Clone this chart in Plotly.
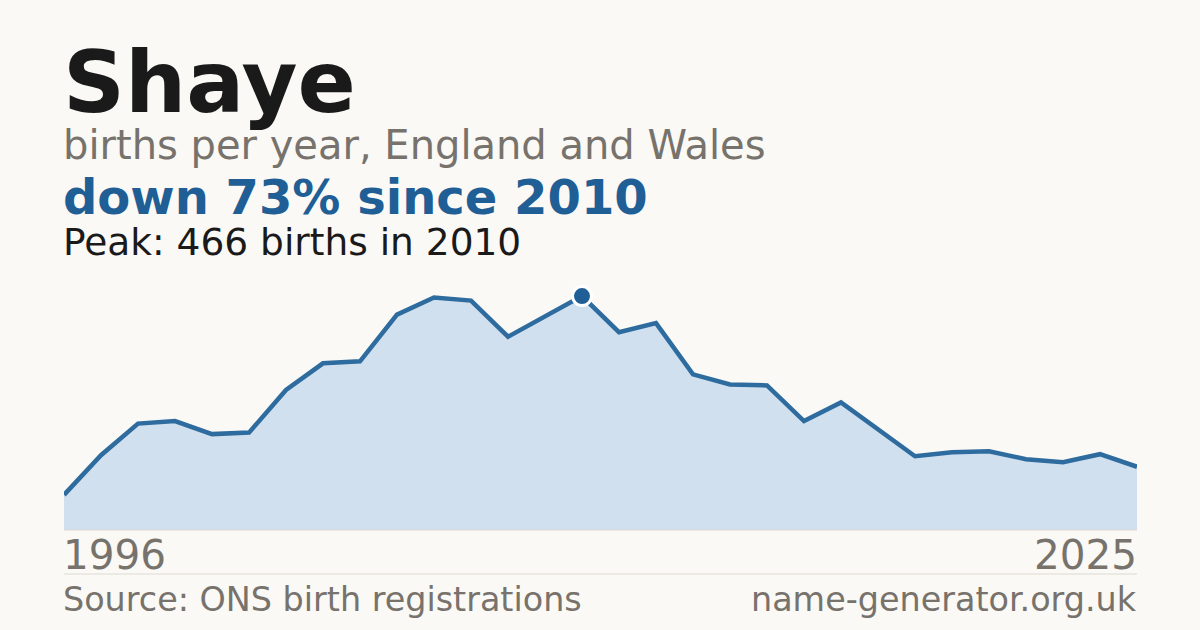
import plotly.graph_objects as go

bakgrunn = '#faf9f5'
blå = '#1f5f95'
linjeblå = '#2e6b9e'
lys_blå = '#d0e0ef'
grå = '#77726c'
svart = '#1a1a1a'

# births per year
years = list(range(1996, 2026))
births = [70, 149, 212, 217, 191, 194, 279, 332, 336, 429,
          463, 457, 385, 425, 466, 394, 412, 310, 290, 288,
          217, 254, 201, 147, 155, 157, 141, 135, 151, 126]

name = 'Shaye'
peak_year = 2010
peak_value = 466
first_label = '1996'
last_label = '2025'

W, H = 1200, 630


def py(px):
    # pixel row from top -> paper y
    return 1 - px / H


def px_x(px):
    return px / W


fig = go.Figure()

fig.add_trace(go.Scatter(
    x=years, y=births,
    mode='lines',
    fill='tozeroy',
    fillcolor=lys_blå,
    line=dict(color=linjeblå, width=4.5),
    hoverinfo='skip'
))

# peak marker
fig.add_trace(go.Scatter(
    x=[peak_year], y=[peak_value],
    mode='markers',
    marker=dict(size=19, color=blå, line=dict(color='white', width=3)),
    cliponaxis=False,
    hoverinfo='skip'
))

fig.update_layout(
    width=W, height=H,
    margin=dict(l=0, r=0, t=0, b=0),
    paper_bgcolor=bakgrunn,
    plot_bgcolor='rgba(0,0,0,0)',
    showlegend=False,
    font=dict(family='DejaVu Sans', color=svart),
    xaxis=dict(domain=[px_x(64), px_x(1137)], range=[1996, 2025],
               visible=False, fixedrange=True),
    yaxis=dict(domain=[py(530), py(280)], range=[0, 498],
               visible=False, fixedrange=True),
)

# tekst (venstre)
tekster = [
    (name, 82, 86, svart, True),
    ('births per year, England and Wales', 145, 40, grå, False),
    ('down 73% since 2010', 197, 48, blå, True),
    ('Peak: %d births in %d' % (peak_value, peak_year), 242, 37.5, svart, False),
    (first_label, 555, 40.5, grå, False),
    ('Source: ONS birth registrations', 599, 33.4, grå, False),
]
for txt, y, size, farge, fet in tekster:
    fig.add_annotation(
        text='<b>%s</b>' % txt if fet else txt,
        x=px_x(61), y=py(y), xref='paper', yref='paper',
        xanchor='left', yanchor='middle', showarrow=False,
        font=dict(size=size, color=farge)
    )

# tekst (høyre)
for txt, y, size in [(last_label, 555, 40.5), ('name-generator.org.uk', 599, 33.4)]:
    fig.add_annotation(
        text=txt, x=px_x(1139), y=py(y), xref='paper', yref='paper',
        xanchor='right', yanchor='middle', showarrow=False,
        font=dict(size=size, color=grå)
    )

# grunnlinje og skillelinje
fig.add_shape(type='line', xref='paper', yref='paper',
              x0=px_x(64), x1=px_x(1137), y0=py(530), y1=py(530),
              line=dict(color='#dcdad4', width=1))
fig.add_shape(type='line', xref='paper', yref='paper',
              x0=px_x(64), x1=px_x(1137), y0=py(574), y1=py(574),
              line=dict(color='#dedad2', width=1))

# fjern standardmargen rundt siden
fig.write_html('out.html', config={'displayModeBar': False},
               post_script="document.body.style.margin='0';")
